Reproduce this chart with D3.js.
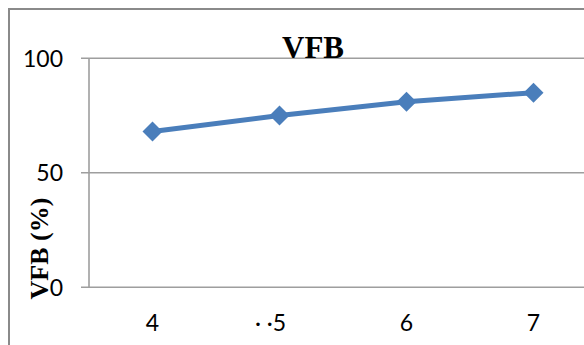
<!DOCTYPE html>
<html>
<head>
<meta charset="utf-8">
<script src="https://cdn.jsdelivr.net/npm/d3@7"></script>
<style>
  html, body { margin: 0; padding: 0; background: #fff; }
  svg { display: block; overflow: hidden; }
</style>
</head>
<body>
<svg id="chart" width="584" height="345"></svg>
<script>
// Series data
const categories = ["4", "5", "6", "7"];
const tickLabels = ["4", "\u00B7 \u00B75", "6", "7"];
const vfbValues = [68, 75, 81, 85];
const yTicks = [0, 50, 100];
const chartTitle = "VFB";
const yAxisTitle = "VFB (%)";

const svg = d3.select("#chart");

const plot = { left: 89, top: 58.3, bottom: 287.3, right: 597 };

const x = d3.scaleBand().domain(categories).range([plot.left, plot.right]).paddingInner(0).paddingOuter(0);
const y = d3.scaleLinear().domain([0, 100]).range([plot.bottom, plot.top]);

// outer chart frame
svg.append("rect")
  .attr("x", 9).attr("y", 9)
  .attr("width", 608).attr("height", 360)
  .attr("fill", "none")
  .attr("stroke", "#8a8a8a")
  .attr("stroke-width", 2);

// horizontal gridlines with left tick stubs
svg.append("g").selectAll("line")
  .data(yTicks)
  .join("line")
  .attr("x1", plot.left - 8)
  .attr("x2", plot.right)
  .attr("y1", d => y(d))
  .attr("y2", d => y(d))
  .attr("stroke", "#9e9e9e")
  .attr("stroke-width", 1.6);

// vertical value axis line
svg.append("line")
  .attr("x1", plot.left).attr("x2", plot.left)
  .attr("y1", y(100)).attr("y2", y(0))
  .attr("stroke", "#9e9e9e")
  .attr("stroke-width", 1.6);

// y tick labels
svg.append("g").selectAll("text")
  .data(yTicks)
  .join("text")
  .attr("x", 63)
  .attr("y", d => y(d) + 8.3)
  .attr("text-anchor", "end")
  .attr("font-family", "Lato, 'Open Sans', sans-serif")
  .attr("font-size", 23)
  .attr("fill", "#000")
  .text(d => d);

// x tick labels: the final digit sits centred on its category
const xl = svg.append("g");
const measure = xl.append("text")
  .attr("font-family", "Lato, 'Open Sans', sans-serif")
  .attr("font-size", 23)
  .text("5");
const digitW = measure.node().getComputedTextLength();
measure.remove();
categories.forEach((c, i) => {
  const cx = x(c) + x.bandwidth() / 2;
  xl.append("text")
    .attr("x", cx + digitW / 2).attr("y", 331)
    .attr("text-anchor", "end")
    .attr("font-family", "Lato, 'Open Sans', sans-serif")
    .attr("font-size", 23)
    .attr("fill", "#000")
    .text(tickLabels[i]);
});

// data line
const pts = categories.map((c, i) => [x(c) + x.bandwidth() / 2, y(vfbValues[i])]);
svg.append("path")
  .attr("d", d3.line()(pts))
  .attr("fill", "none")
  .attr("stroke", "#4a7ebb")
  .attr("stroke-width", 5)
  .attr("stroke-linejoin", "round");

// diamond markers
svg.append("g").selectAll("path")
  .data(pts)
  .join("path")
  .attr("d", d3.symbol(d3.symbolSquare, 200))
  .attr("transform", d => `translate(${d[0]},${d[1]}) rotate(45)`)
  .attr("fill", "#4a7ebb");

// chart title
svg.append("text")
  .attr("x", 313).attr("y", 58)
  .attr("text-anchor", "middle")
  .attr("font-family", "'Liberation Serif', 'Times New Roman', serif")
  .attr("font-weight", "bold")
  .attr("font-size", 31)
  .attr("fill", "#000")
  .text(chartTitle);

// y axis title
svg.append("text")
  .attr("transform", "translate(48,248.5) rotate(-90)")
  .attr("text-anchor", "middle")
  .attr("font-family", "'Liberation Serif', 'Times New Roman', serif")
  .attr("font-weight", "bold")
  .attr("font-size", 26)
  .attr("fill", "#000")
  .text(yAxisTitle);
</script>
</body>
</html>
